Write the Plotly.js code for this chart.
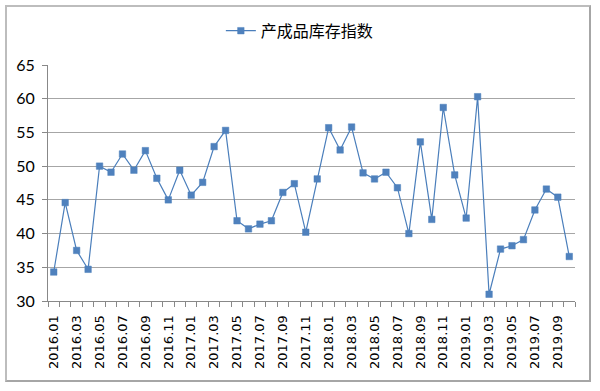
<!DOCTYPE html>
<html><head><meta charset="utf-8">
<script src="https://cdn.plot.ly/plotly-3.0.1.min.js"></script>
<style>
html,body{margin:0;padding:0;background:#fff;}
#frame{position:absolute;left:5px;top:5px;width:586px;height:377px;border:2px solid #a6a6a6;border-top-color:#bdbdbd;border-left-color:#bdbdbd;box-sizing:border-box;}
#chart{position:absolute;left:0;top:0;width:600px;height:391px;}
</style></head>
<body>
<div id="frame"></div>
<div id="chart"></div>
<script>
const months = ["2016.01","2016.02","2016.03","2016.04","2016.05","2016.06","2016.07","2016.08","2016.09","2016.10","2016.11","2016.12",
"2017.01","2017.02","2017.03","2017.04","2017.05","2017.06","2017.07","2017.08","2017.09","2017.10","2017.11","2017.12",
"2018.01","2018.02","2018.03","2018.04","2018.05","2018.06","2018.07","2018.08","2018.09","2018.10","2018.11","2018.12",
"2019.01","2019.02","2019.03","2019.04","2019.05","2019.06","2019.07","2019.08","2019.09","2019.10"];
const inventoryIndex = [34.3,44.6,37.5,34.7,50.0,49.1,51.8,49.4,52.3,48.2,45.0,49.4,
45.7,47.6,52.9,55.3,41.9,40.7,41.4,41.9,46.1,47.4,40.2,48.1,
55.7,52.4,55.8,49.0,48.1,49.1,46.8,40.0,53.6,42.1,58.7,48.7,
42.3,60.3,31.0,37.7,38.2,39.1,43.5,46.6,45.4,36.6];
const seriesName = "产成品库存指数";
const tickText = months.map((m,i)=> i%2===0 ? m : "");

Plotly.newPlot("chart",[{
  x: months, y: inventoryIndex, type:"scatter", mode:"lines+markers", name: seriesName,
  line:{color:"#4a7ebb", width:1.2},
  marker:{symbol:"square", size:6.5, color:"#4f81bd", line:{color:"#4f81bd", width:0.5}}
}],{
  width:600, height:391,
  paper_bgcolor:"rgba(0,0,0,0)", plot_bgcolor:"rgba(0,0,0,0)",
  margin:{l:48, r:25, t:65, b:90},
  showlegend:true,
  legend:{orientation:"h", x:0.328, xanchor:"left", y:1.145, yanchor:"middle", itemwidth:30,
    font:{family:"Noto Sans CJK SC", size:16, color:"#000"}, bgcolor:"rgba(0,0,0,0)"},
  xaxis:{type:"category", tickmode:"array", tickvals:months, ticktext:tickText, tickangle:-90,
    tickson:"boundaries", ticks:"outside", ticklen:5, tickcolor:"#888", showgrid:false,
    showline:true, linecolor:"#888", linewidth:1, range:[-0.5,45.5], ticklabelstandoff:8,
    tickfont:{family:"DejaVu Sans", size:13, color:"#000"}},
  yaxis:{range:[30,65], dtick:5, tick0:30, showgrid:true, gridcolor:"#a6a6a6", gridwidth:1,
    zeroline:false, showline:true, linecolor:"#888", ticks:"outside", ticklen:5, tickcolor:"#888",
    ticklabelstandoff:4,
    tickfont:{family:"Lato", size:16, color:"#000"}}
},{displayModeBar:false, staticPlot:true});
</script>
</body></html>
